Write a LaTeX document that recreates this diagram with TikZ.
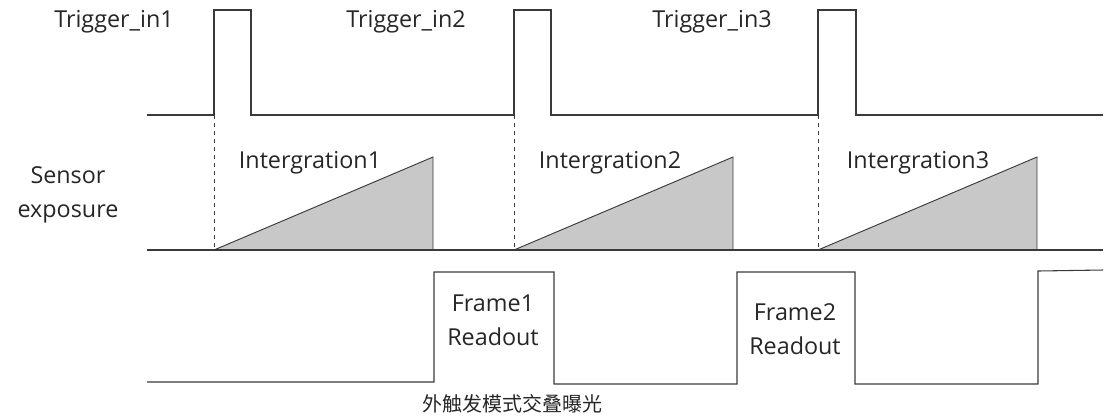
\documentclass[tikz,border=0pt]{standalone}
\usepackage{fontspec}
\setmainfont{Open Sans}
\newfontfamily\cjk{Noto Sans CJK SC}
\usetikzlibrary{arrows.meta}

\definecolor{wavegray}{HTML}{3A3A3A}
\definecolor{textgray}{HTML}{262626}
\definecolor{rampgray}{HTML}{C8C8C8}

\tikzset{
    wave/.style={wavegray, line width=0.8pt, line join=miter},
    guide/.style={wavegray, line width=0.6pt, dashed},
    ramp/.style={wavegray, line width=0.7pt, fill=rampgray},
    lbl/.style={textgray, inner sep=0pt, align=center}
}

\begin{document}
\begin{tikzpicture}[x=0.75pt, y=-0.75pt, font=\fontsize{17.5}{25.5}\selectfont]
    \useasboundingbox (0,0) rectangle (1105,419);

    % Trigger input
    \draw[wave] (147,115) -- (214,115) -- (214,10) -- (251,10) -- (251,115)
        -- (514,115) -- (514,10) -- (551,10) -- (551,115)
        -- (818,115) -- (818,10) -- (856,10) -- (856,115) -- (1103,115);
    \node[lbl] (trig1) at (114,22) {Trigger\_in1};
    \node[lbl] (trig2) at (406,22) {Trigger\_in2};
    \node[lbl] (trig3) at (712,22) {Trigger\_in3};

    % Dashed guides
    \draw[guide] (214,115) -- (214,250);
    \draw[guide] (514,115) -- (514,250);
    \draw[guide] (818,115) -- (818,250);

    % Sensor exposure
    \draw[ramp] (214,250) -- (433,157) -- (433,250) -- cycle;
    \draw[ramp] (514,250) -- (733,157) -- (733,250) -- cycle;
    \draw[ramp] (818,250) -- (1037,157) -- (1037,250) -- cycle;
    \draw[wave] (147,250) -- (1103,250);
    \node[lbl] (sensor) at (68,195) {Sensor\\exposure};
    \node[lbl] (int1) at (310,163) {Intergration1};
    \node[lbl] (int2) at (610,163) {Intergration2};
    \node[lbl] (int3) at (918,163) {Intergration3};

    % Readout
    \draw[wave] (147,382) -- (434,382) -- (434,272) -- (554,272) -- (554,384)
        -- (737,384) -- (737,272) -- (855,272) -- (855,384)
        -- (1038,384) -- (1038,271) -- (1103,270);
    \node[lbl] (read1) at (493,320) {Frame1\\Readout};
    \node[lbl] (read2) at (795,329) {Frame2\\Readout};

    \node[lbl, font=\cjk\fontsize{15}{18}\selectfont] (title) at (512,404) {外触发模式交叠曝光};
\end{tikzpicture}
\end{document}
